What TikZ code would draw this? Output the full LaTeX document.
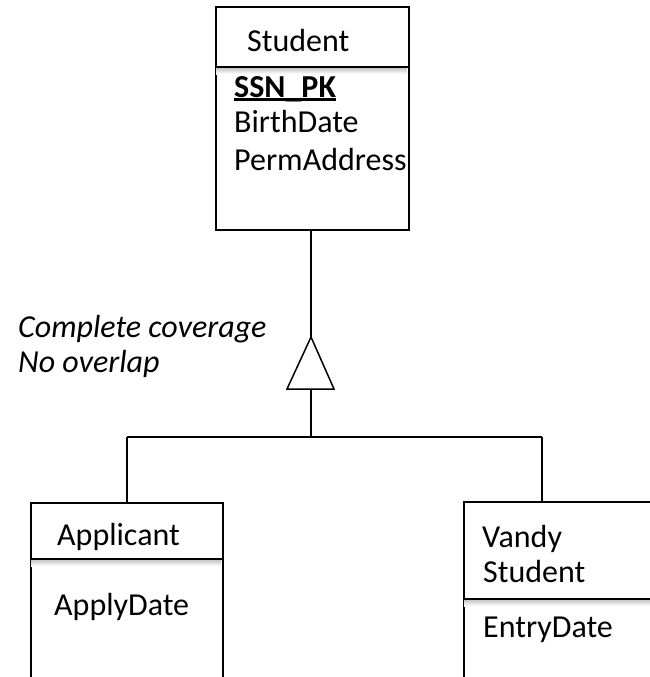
\documentclass[tikz,border=0pt]{standalone}
\usepackage{fontspec}
\setmainfont{Carlito}
\begin{document}
\begin{tikzpicture}[x=1pt,y=-1pt,
  entity/.style={draw, line width=1.6pt, rectangle, anchor=north west, inner sep=0pt},
  label/.style={anchor=base west, inner sep=0pt, font=\fontsize{32}{38}\selectfont},
  link/.style={line width=1.5pt},
  divider/.style={line width=1.6pt},
  dshadow/.style={top color=black!22, bottom color=white, draw=none}]
\useasboundingbox (0,0) rectangle (650,677);
\clip (0,0) rectangle (650,677);

% superclass
\node[entity, minimum width=193pt, minimum height=223pt] (student) at (215,6) {};
\fill[dshadow] (216,68) rectangle (407,74);
\draw[divider] (student.west |- 0,67) -- (student.east |- 0,67);
\node[label] (sname) at (247,52) {Student};
\node[label] (ssn) at (234,97) {\textbf{SSN\_PK}};
\draw[line width=2.4pt] ([yshift=-2.6pt]ssn.base west) -- ([yshift=-2.6pt]ssn.base east);
\node[label] (birth) at (234,132) {BirthDate};
\node[label] (perm) at (234,170) {PermAddress};

% subclasses
\node[entity, minimum width=192pt, minimum height=260pt] (applicant) at (30,502) {};
\fill[dshadow] (31,560) rectangle (221,566);
\draw[divider] (applicant.west |- 0,559) -- (applicant.east |- 0,559);
\node[label] (aname) at (57,545) {Applicant};
\node[label] (adate) at (54,615) {ApplyDate};

\node[entity, minimum width=260pt, minimum height=260pt] (vandy) at (463,501) {};
\fill[dshadow] (464,600) rectangle (650,606);
\draw[divider] (vandy.west |- 0,599) -- (vandy.east |- 0,599);
\node[label] (vname1) at (482,547) {Vandy};
\node[label] (vname2) at (483,582) {Student};
\node[label] (vdate) at (483,637) {EntryDate};

% generalization triangle
\coordinate (apex) at (311,337);
\coordinate (baseL) at (287,389);
\coordinate (baseR) at (334,389);
\coordinate (baseM) at (311,389);
\draw[line width=1.5pt] (apex) -- (baseR) -- (baseL) -- cycle;

% connectors
\coordinate (busL) at (127,437);
\coordinate (busM) at (311,437);
\coordinate (busR) at (542,437);
\draw[line width=2.4pt] (student.south -| apex) -- (apex);
\draw[link] (baseM) -- (busM);
\draw[line width=2pt] (busL) -- (busR);
\draw[link] (busL) -- (applicant.north -| busL);
\draw[link] (busR) -- (vandy.north -| busR);

% constraint annotation
\node[label, font=\fontsize{32}{38}\selectfont\itshape] (cover) at (18,337) {Complete coverage};
\node[label, font=\fontsize{32}{38}\selectfont\itshape] (overlap) at (18,372) {No overlap};
\end{tikzpicture}
\end{document}
